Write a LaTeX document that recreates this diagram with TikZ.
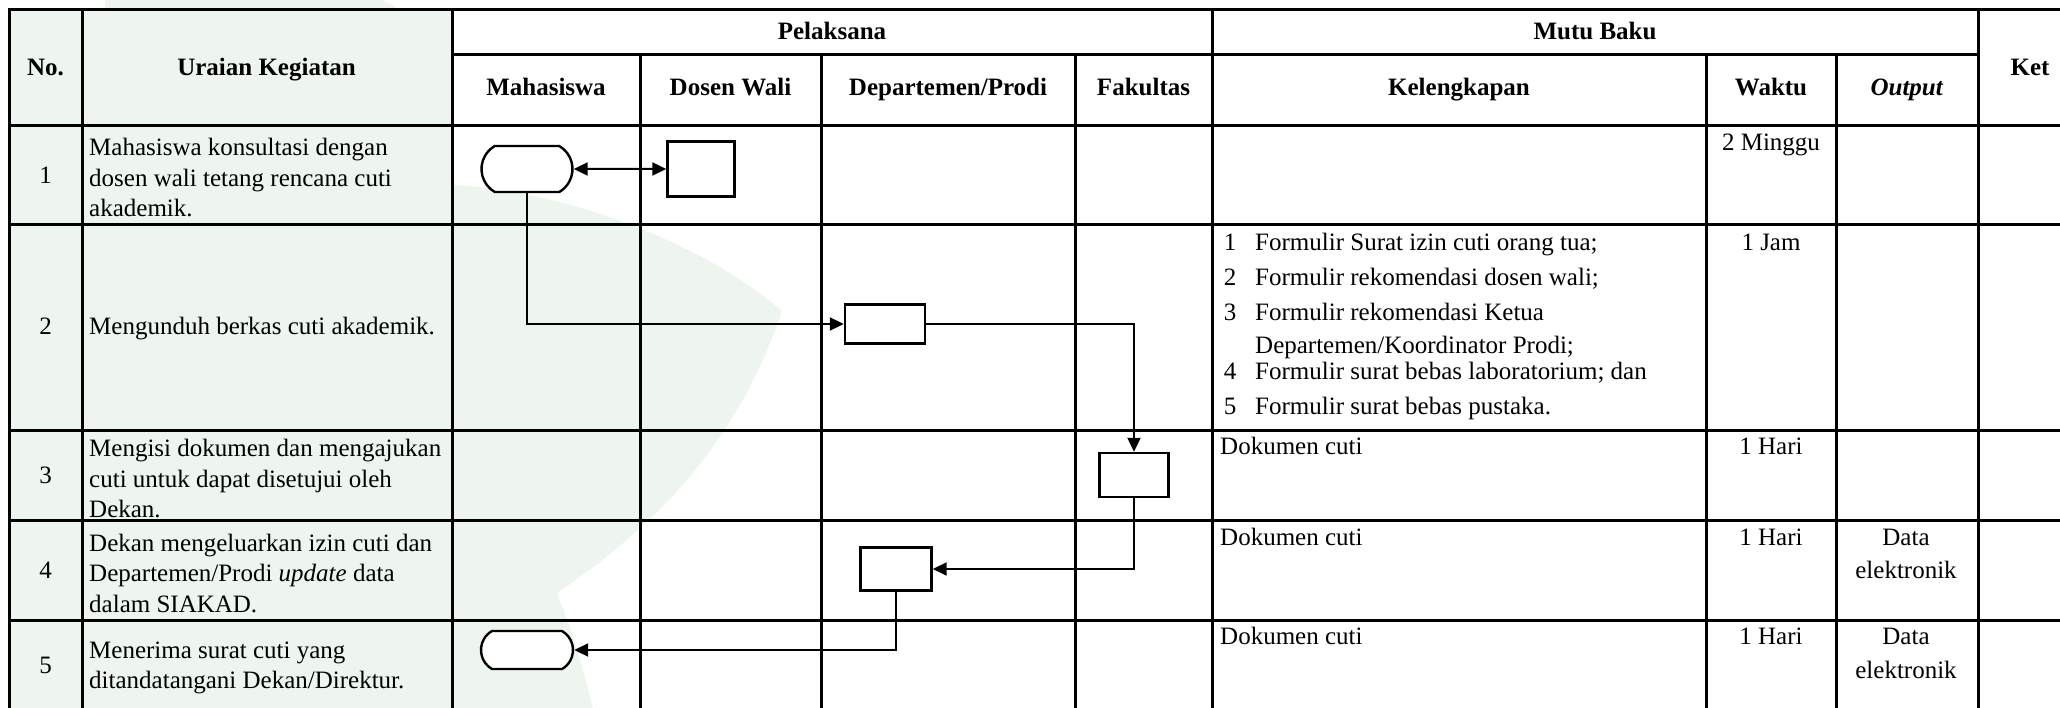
\documentclass[tikz,border=0pt]{standalone}
\usepackage{fontspec}
\setmainfont{Liberation Serif}
\usepackage{tikz}
\usetikzlibrary{shapes.misc,arrows.meta,positioning,calc}

\definecolor{hijaumuda}{RGB}{237,245,238}

\begin{document}
\begin{tikzpicture}[x=1pt, y=-1pt,
    every node/.style={font=\fontsize{25}{30.5}\selectfont, inner sep=0pt},
    judul/.style={font=\fontsize{25}{30.5}\selectfont\bfseries},
    sel/.style={text height=17pt, text depth=6pt},
    uraian/.style={anchor=west, align=left},
    garis/.style={line width=3pt, line cap=rect},
    proses/.style={draw, line width=2.4pt, fill=white},
    terminal/.style={draw, line width=2.4pt, fill=white, rounded rectangle, rounded rectangle arc length=120},
    alir/.style={line width=2pt, -{Triangle[length=14pt,width=13pt]}},
    alirdua/.style={line width=2pt, {Triangle[length=14pt,width=13pt]}-{Triangle[length=14pt,width=13pt]}}]
    \useasboundingbox (0,0) rectangle (2060,708);
    \clip (0,0) rectangle (2060,708);

    % latar
    \fill[hijaumuda] (105,0) -- (382,0) .. controls (415,18) .. (452,45) -- (452,60) -- (105,60) -- cycle;
    \fill[hijaumuda] (452,185) .. controls (560,190) and (700,240) .. (782,311)
        .. controls (745,420) and (680,510) .. (557,593) .. controls (575,640) .. (593,708) -- (452,708) -- cycle;
    \fill[hijaumuda] (9,10) rectangle (452,718);

    % kepala tabel
    \node[judul, sel] (hNo) at (45.5,70) {No.};
    \node[judul, sel] (hUraian) at (266.5,70) {Uraian Kegiatan};
    \node[judul, sel] (hPelaksana) at (832,34) {Pelaksana};
    \node[judul, sel] (hMutu) at (1595,34) {Mutu Baku};
    \node[judul, sel] (hKet) at (2030,70) {Ket};
    \node[judul, sel] (hMhs) at (546,90) {Mahasiswa};
    \node[judul, sel] (hDosen) at (730.5,90) {Dosen Wali};
    \node[judul, sel] (hDep) at (948,90) {Departemen/Prodi};
    \node[judul, sel] (hFak) at (1143.5,90) {Fakultas};
    \node[judul, sel] (hLengkap) at (1459,90) {Kelengkapan};
    \node[judul, sel] (hWaktu) at (1771,90) {Waktu};
    \node[judul, sel] (hOutput) at (1907,90) {\textit{Output}};

    % nomor
    \foreach \n/\y in {1/178, 2/329, 3/478, 4/573, 5/668}
        \node[sel] (no\n) at (45.5,\y) {\n};

    % uraian kegiatan
    \node[uraian] (ur1) at (89,178) {Mahasiswa konsultasi dengan\\dosen wali tetang rencana cuti\\akademik.};
    \node[uraian, sel] (ur2) at (89,329) {Mengunduh berkas cuti akademik.};
    \node[uraian] (ur3) at (89,479) {Mengisi dokumen dan mengajukan\\cuti untuk dapat disetujui oleh\\Dekan.};
    \node[uraian] (ur4) at (89,573) {Dekan mengeluarkan izin cuti dan\\Departemen/Prodi \textit{update} data\\dalam SIAKAD.};
    \node[uraian] (ur5) at (89,668) {Menerima surat cuti yang\\ditandatangani Dekan/Direktur.};

    % kelengkapan
    \foreach \n/\y/\teks in {1/245/{Formulir Surat izin cuti orang tua;},
                            2/280/{Formulir rekomendasi dosen wali;},
                            3/315/{Formulir rekomendasi Ketua},
                            4/374/{Formulir surat bebas laboratorium; dan},
                            5/409/{Formulir surat bebas pustaka.}} {
        \node[sel] (lkno\n) at (1230,\y) {\n};
        \node[sel, anchor=west] (lk\n) at (1255,\y) {\teks};
    }
    \node[sel, anchor=west] (lk3b) at (1255,348) {Departemen/Koordinator Prodi;};
    \node[sel, anchor=west] (dok3) at (1220,449) {Dokumen cuti};
    \node[sel, anchor=west] (dok4) at (1220,540) {Dokumen cuti};
    \node[sel, anchor=west] (dok5) at (1220,639) {Dokumen cuti};

    % waktu dan output
    \node[sel] (wk1) at (1771,145) {2 Minggu};
    \node[sel] (wk2) at (1771,245) {1 Jam};
    \node[sel] (wk3) at (1771,449) {1 Hari};
    \node[sel] (wk4) at (1771,540) {1 Hari};
    \node[sel] (wk5) at (1771,639) {1 Hari};
    \node[sel] (out4a) at (1906,540) {Data};
    \node[sel] (out4b) at (1906,573) {elektronik};
    \node[sel] (out5a) at (1906,639) {Data};
    \node[sel] (out5b) at (1906,673) {elektronik};

    % garis tabel
    \draw[garis] (9,10) rectangle (2112,718);
    \foreach \y in {126,225,430,520,620}
        \draw[garis] (9,\y) -- (2112,\y);
    \draw[garis] (452,55) -- (1978,55);
    \foreach \x in {82,452,1212,1978}
        \draw[garis] (\x,10) -- (\x,718);
    \foreach \x in {640,821,1075,1706,1836}
        \draw[garis] (\x,55) -- (\x,718);

    % bagan alir
    \node[terminal, minimum width=91pt, minimum height=46pt] (mhs1) at (527,169) {};
    \node[proses, minimum width=67pt, minimum height=55pt] (dw1) at (701,169) {};
    \node[proses, minimum width=80pt, minimum height=39pt] (dep2) at (885,324) {};
    \node[proses, minimum width=69pt, minimum height=44pt] (fak3) at (1134,475) {};
    \node[proses, minimum width=71pt, minimum height=43pt] (dep4) at (896,569) {};
    \node[terminal, minimum width=92pt, minimum height=38pt] (mhs5) at (527,650) {};

    \draw[alirdua] (mhs1) -- (dw1);
    \draw[alir] (mhs1.south) |- (dep2.west);
    \draw[alir] (dep2.east) -| (fak3.north);
    \draw[alir] (fak3.south) |- (dep4.east);
    \draw[alir] (dep4.south) |- (mhs5.east);
\end{tikzpicture}
\end{document}
